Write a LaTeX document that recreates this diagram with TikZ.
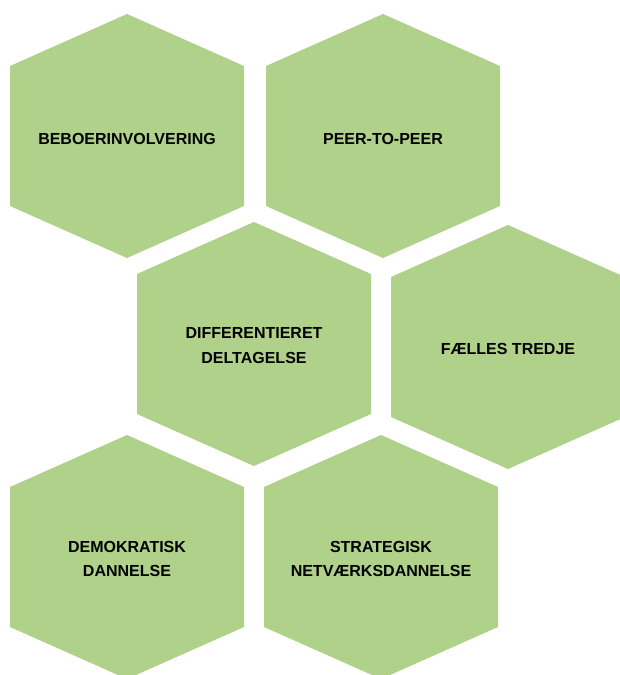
\documentclass[tikz,border=0pt]{standalone}
\usepackage{fontspec}
\setmainfont{Liberation Sans}
\definecolor{hexgreen}{RGB}{175,209,138}
\newcommand{\hexcell}[2]{%
  \fill [hexfill, shift={(#1,#2)}] (0,-122) -- (117,-70) -- (117,70) -- (0,122) -- (-117,70) -- (-117,-70) -- cycle;}

\begin{document}
\begin{tikzpicture}[x=1pt,y=-1pt,
  hexfill/.style={fill=hexgreen},
  hextext/.style={font=\fontsize{16}{24.5}\selectfont\bfseries, align=center, text=black}]
  \useasboundingbox (0,0) rectangle (620,675);
  \clip (0,0) rectangle (620,675);

  \hexcell{127}{136}
  \hexcell{383}{136}
  \hexcell{254}{344}
  \hexcell{508}{347}
  \hexcell{127}{557}
  \hexcell{381}{557}

  \node [hextext] (beboer) at (127,138.5) {BEBOERINVOLVERING};
  \node [hextext] (peer) at (383,138.5) {PEER-TO-PEER};
  \node [hextext] (diff) at (254,345.5) {DIFFERENTIERET\\DELTAGELSE};
  \node [hextext] (faelles) at (508,348.5) {FÆLLES TREDJE};
  \node [hextext] (demo) at (127,559) {DEMOKRATISK\\DANNELSE};
  \node [hextext] (strat) at (381,559) {STRATEGISK\\NETVÆRKSDANNELSE};

\end{tikzpicture}
\end{document}
